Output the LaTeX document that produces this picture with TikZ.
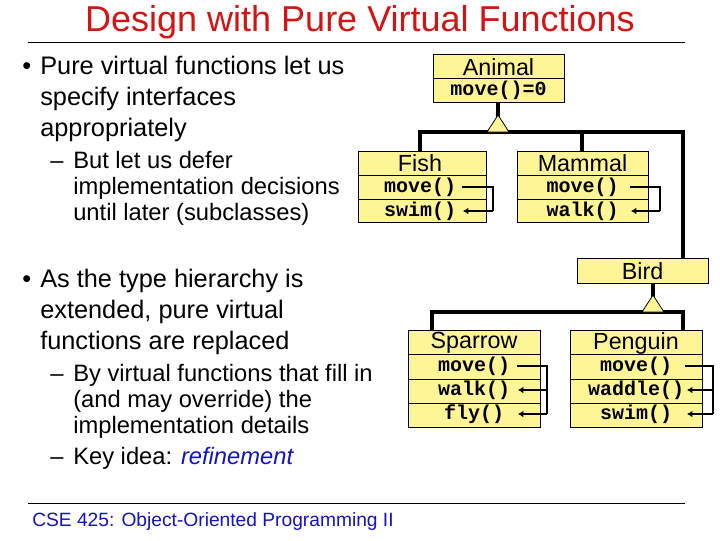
\documentclass[tikz,border=0pt]{standalone}
\usepackage{fontspec}
\setmainfont{Liberation Sans}
\newfontfamily\codefont{Liberation Mono}
\usetikzlibrary{arrows.meta}
\definecolor{boxy}{RGB}{255,245,150}
\definecolor{titred}{RGB}{210,20,20}
\definecolor{footblue}{RGB}{20,20,190}
\begin{document}
\begin{tikzpicture}[x=0.75pt,y=-0.75pt,
  txt/.style={anchor=base west,inner sep=0pt,align=left},
  big/.style={txt,font=\fontsize{19}{23.25}\selectfont},
  small/.style={txt,font=\fontsize{17.8}{19.5}\selectfont},
  cls/.style={draw=black,fill=boxy,line width=0.6pt},
  hd/.style={inner sep=0pt,font=\fontsize{17.5}{18}\selectfont},
  cd/.style={inner sep=0pt,font=\codefont\bfseries\fontsize{15}{15}\selectfont},
  bar/.style={line width=3pt},
  tri/.style={draw=black,fill=boxy,line width=0.6pt},
  ovr/.style={line width=1.8pt},
  ovra/.style={line width=1.8pt,-{Latex[length=4pt,width=5pt]}}]
\useasboundingbox (0,0) rectangle (720,540);
% title
\node[inner sep=0pt,text=titred,font=\fontsize{27}{28}\selectfont] (title) at (360,22) {Design with Pure Virtual Functions};
\draw[line width=0.6pt] (28,42) -- (685,42);
% bullets
\node[big] (b1m) at (22,74) {•};
\node[big] (b1) at (40,136) {Pure virtual functions let us\\specify interfaces\\appropriately};
\node[small] (s1m) at (50,168) {–};
\node[small] (s1) at (73,220) {But let us defer\\implementation decisions\\until later (subclasses)};
\node[big] (b2m) at (22,287) {•};
\node[big] (b2) at (40,349) {As the type hierarchy is\\extended, pure virtual\\functions are replaced};
\node[small] (s2m) at (50,381) {–};
\node[small] (s2) at (73,433) {By virtual functions that fill in\\(and may override) the\\implementation details};
\node[small] (s3m) at (50,464) {–};
\node[small] (s3) at (73,464) {Key idea: \textcolor{footblue}{\itshape refinement}};
% footer
\draw[line width=0.6pt] (28,503) -- (685,503);
\node[txt,text=footblue,font=\fontsize{14.4}{15}\selectfont] (foot) at (32,526) {CSE 425: Object-Oriented Programming II};
% connectors (bars)
\draw[bar] (498,102) -- (498,120);
\draw[bar] (420,151) -- (420,132) -- (683,132) -- (683,258);
\draw[bar] (582,132) -- (582,151);
\draw[bar] (653,283) -- (653,300);
\draw[bar] (432,330) -- (432,312) -- (683,312) -- (683,330);
% Animal
\draw[cls] (433,54) rectangle (564,102); \draw (433,78) -- (564,78);
\node[hd] (animal) at (498.5,67) {Animal};
\node[cd] (am) at (498.5,90) {move()=0};
\draw[tri] (487,132) -- (509,132) -- (498,115) -- cycle;
% Fish
\draw[cls] (358,151) rectangle (486,222); \draw (358,175) -- (486,175) (358,199) -- (486,199);
\node[hd] (fish) at (420,163) {Fish};
\node[cd] (fm) at (420,187) {move()};
\node[cd] (fs) at (420,211) {swim()};
\draw[ovr] (462,187) -- (493,187) -- (493,211);
\draw[ovra] (493,211) -- (463,211);
% Mammal
\draw[cls] (517,151) rectangle (648,222); \draw (517,175) -- (648,175) (517,199) -- (648,199);
\node[hd] (mammal) at (582.5,163) {Mammal};
\node[cd] (mm) at (582.5,187) {move()};
\node[cd] (mw) at (582.5,211) {walk()};
\draw[ovr] (630,187) -- (660,187) -- (660,211);
\draw[ovra] (660,211) -- (631,211);
% Bird
\draw[cls] (577,258) rectangle (708,283);
\node[hd] (bird) at (642.5,271) {Bird};
\draw[tri] (642,312) -- (664,312) -- (653,295) -- cycle;
% Sparrow
\draw[cls] (408,330) rectangle (540,427); \draw (408,354) -- (540,354) (408,379) -- (540,379) (408,403) -- (540,403);
\node[hd] (sparrow) at (474,343) {Sparrow};
\node[cd] (sm) at (474,366) {move()};
\node[cd] (sw) at (474,390) {walk()};
\node[cd] (sf) at (474,414) {fly()};
\draw[ovr] (517,366) -- (547,366) -- (547,414);
\draw[ovra] (547,390) -- (518,390);
\draw[ovra] (547,414) -- (518,414);
% Penguin
\draw[cls] (570,330) rectangle (702,427); \draw (570,354) -- (702,354) (570,379) -- (702,379) (570,403) -- (702,403);
\node[hd] (penguin) at (636,343) {Penguin};
\node[cd] (pm) at (636,366) {move()};
\node[cd] (pw) at (636,390) {waddle()};
\node[cd] (ps) at (636,414) {swim()};
\draw[ovr] (685,366) -- (713,366) -- (713,414);
\draw[ovra] (713,390) -- (687,390);
\draw[ovra] (713,414) -- (687,414);
\end{tikzpicture}
\end{document}
